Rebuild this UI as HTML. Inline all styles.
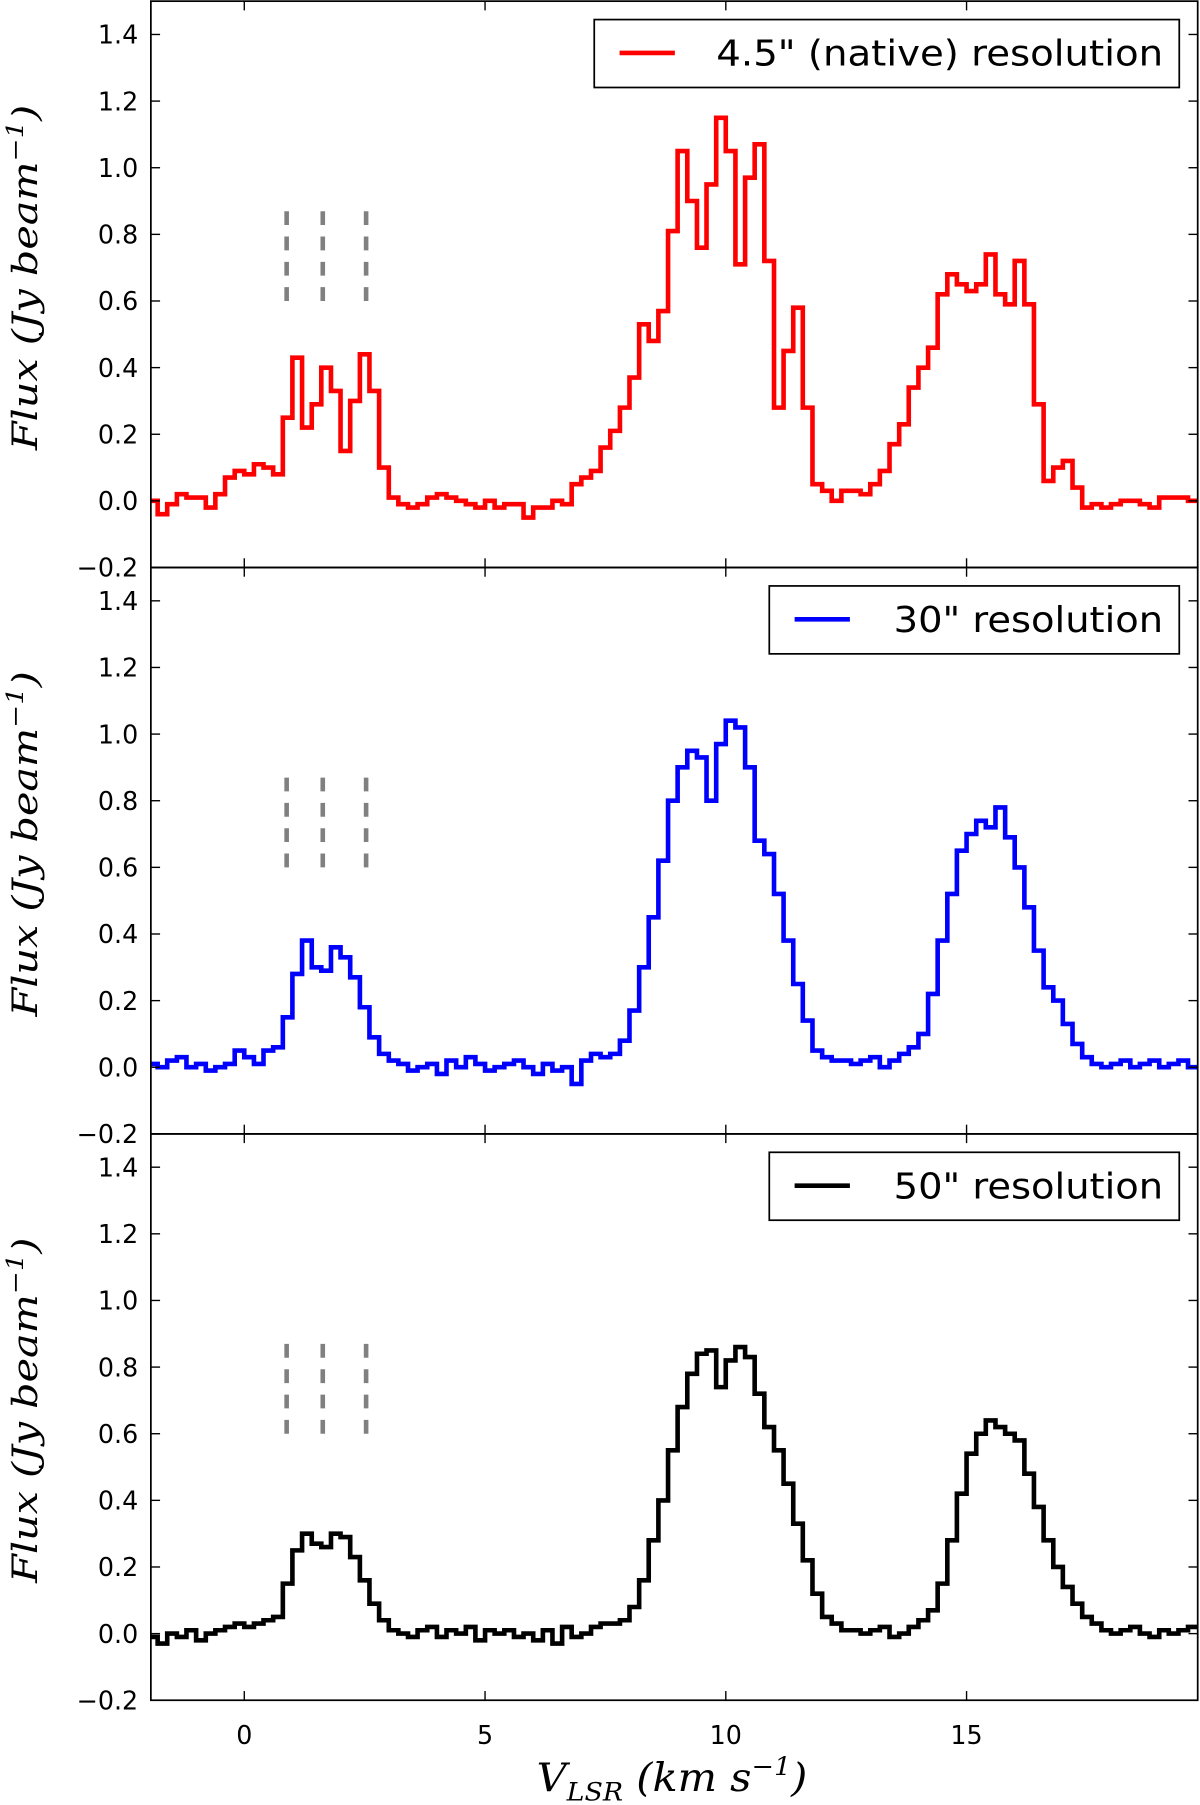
<!DOCTYPE html>
<html><head><meta charset="utf-8"><style>
html,body{margin:0;padding:0;background:#fff;}
svg{display:block;}
text{font-family:"DejaVu Sans","Liberation Sans",sans-serif;}
.math{font-family:"DejaVu Serif","Liberation Serif",serif;font-style:italic;}
</style></head><body>
<svg id="chart" width="1200" height="1805" viewBox="0 0 1042 1568" preserveAspectRatio="none" xmlns="http://www.w3.org/2000/svg"></svg>
<script>
const xStart = -1.9;
const xStep = 0.2;
const redValues = [0.00,-0.04,-0.01,0.02,0.01,0.01,-0.02,0.02,0.07,0.09,0.08,0.11,0.10,0.08,0.25,0.43,0.22,0.29,0.40,0.33,0.15,0.30,0.44,0.33,0.10,0.01,-0.01,-0.02,-0.01,0.01,0.02,0.01,0.00,-0.01,-0.02,0.00,-0.02,-0.01,-0.01,-0.05,-0.02,-0.02,0.00,-0.01,0.05,0.07,0.09,0.16,0.21,0.28,0.37,0.53,0.48,0.57,0.81,1.05,0.90,0.76,0.95,1.15,1.05,0.71,0.97,1.07,0.72,0.28,0.45,0.58,0.28,0.05,0.03,0.00,0.03,0.03,0.02,0.05,0.09,0.17,0.23,0.34,0.40,0.46,0.62,0.68,0.65,0.63,0.65,0.74,0.62,0.59,0.72,0.59,0.29,0.06,0.10,0.12,0.04,-0.02,-0.01,-0.02,-0.01,0.00,0.00,-0.01,-0.02,0.01,0.01,0.01,0.00];
const blueValues = [0.01,0.00,0.02,0.03,0.00,0.01,-0.01,0.00,0.01,0.05,0.03,0.01,0.05,0.06,0.15,0.28,0.38,0.30,0.29,0.36,0.33,0.27,0.18,0.09,0.04,0.02,0.01,-0.01,0.00,0.01,-0.02,0.02,0.00,0.03,0.01,-0.01,0.00,0.01,0.02,0.00,-0.02,0.01,-0.01,0.00,-0.05,0.02,0.04,0.03,0.04,0.08,0.17,0.30,0.45,0.62,0.80,0.90,0.95,0.93,0.80,0.97,1.04,1.02,0.90,0.68,0.64,0.52,0.38,0.25,0.14,0.05,0.03,0.02,0.02,0.01,0.02,0.03,0.00,0.02,0.04,0.06,0.10,0.22,0.38,0.52,0.65,0.70,0.74,0.72,0.78,0.69,0.60,0.48,0.35,0.24,0.20,0.13,0.07,0.03,0.01,0.00,0.01,0.02,0.00,0.01,0.02,0.00,0.01,0.02,0.00];
const blackValues = [-0.01,-0.03,0.00,-0.01,0.01,-0.02,0.00,0.01,0.02,0.03,0.02,0.03,0.04,0.05,0.15,0.25,0.30,0.27,0.26,0.30,0.29,0.23,0.16,0.09,0.04,0.01,0.00,-0.01,0.01,0.02,-0.01,0.01,0.00,0.02,-0.02,0.01,0.00,0.01,-0.01,0.00,-0.02,0.01,-0.03,0.02,-0.01,0.00,0.02,0.03,0.03,0.04,0.08,0.16,0.28,0.40,0.55,0.68,0.78,0.84,0.85,0.74,0.82,0.86,0.83,0.72,0.62,0.55,0.45,0.33,0.22,0.12,0.05,0.03,0.01,0.01,0.00,0.01,0.02,-0.01,0.00,0.02,0.04,0.07,0.15,0.28,0.42,0.54,0.60,0.64,0.62,0.60,0.58,0.48,0.38,0.28,0.20,0.14,0.09,0.05,0.03,0.01,0.00,0.01,0.02,0.00,-0.01,0.01,0.00,0.01,0.02];
const seriesColors = ["#ff0000","#0000ff","#000000"];
const legendLabels = ['4.5" (native) resolution','30" resolution','50" resolution'];
const yTicks = [-0.2,0.0,0.2,0.4,0.6,0.8,1.0,1.2,1.4];
const xTicks = [0,5,10,15];
const markerVelocities = [0.88,1.63,2.53];

const NS="http://www.w3.org/2000/svg";
const svg=document.getElementById('chart');
const L=131,R=1040,xMin=-1.94,xMax=19.8,yMin=-0.2,yMax=1.5;
const panelTops=[1,493,985],panelH=492;
function sx(v){return L+(v-xMin)/(xMax-xMin)*(R-L);}
function syF(top){return v=>top+panelH-(v-yMin)/(yMax-yMin)*panelH;}
function el(tag,attrs,parent){const e=document.createElementNS(NS,tag);for(const k in attrs)e.setAttribute(k,attrs[k]);(parent||svg).appendChild(e);return e;}
const allSeries=[redValues,blueValues,blackValues];
const names=['red','blue','black'];
allSeries.forEach((vals,p)=>{
  const top=panelTops[p],sy=syF(top);
  const g=el('g',{});
  
  
  const cp=el('clipPath',{id:'cp'+p},g);
  el('rect',{x:L,y:top,width:R-L,height:panelH},cp);
  markerVelocities.forEach(m=>{
    const ln=el('line',{x1:sx(m),x2:sx(m),y1:sy(0.6),y2:sy(0.9),stroke:'#808080','stroke-width':4,'stroke-dasharray':'12,10'},g);
    
    
  });
  let d='';
  vals.forEach((v,i)=>{
    const x0=sx(xStart+i*xStep-xStep/2),x1=sx(xStart+i*xStep+xStep/2);
    d+=(i===0?'M':'L')+x0.toFixed(1)+','+sy(v).toFixed(1)+'L'+x1.toFixed(1)+','+sy(v).toFixed(1);
  });
  const path=el('path',{d:d,fill:'none',stroke:seriesColors[p],'stroke-width':4,'clip-path':'url(#cp'+p+')'},g);
  
  
  const fr=el('rect',{x:L,y:top,width:R-L,height:panelH,fill:'none',stroke:'#000','stroke-width':1.5},g);
  
  
  yTicks.forEach(t=>{
    const y=sy(t);
    el('line',{x1:L,x2:L+8,y1:y,y2:y,stroke:'#000','stroke-width':1.2},g);
    el('line',{x1:R-8,x2:R,y1:y,y2:y,stroke:'#000','stroke-width':1.2},g);
    const tx=el('text',{x:120,y:y+8,'text-anchor':'end','font-size':22},g);
    tx.textContent=(t<0?'\u2212':'')+Math.abs(t).toFixed(1);
    
    
  });
  xTicks.forEach(t=>{
    const x=sx(t);
    el('line',{x1:x,x2:x,y1:top,y2:top+8,stroke:'#000','stroke-width':1.2},g);
    el('line',{x1:x,x2:x,y1:top+panelH-8,y2:top+panelH,stroke:'#000','stroke-width':1.2},g);
  });
  const yl=el('text',{x:0,y:0,'font-size':30,'text-anchor':'middle',transform:'translate(32,'+(top+panelH/2-6)+') rotate(-90)',class:'math',textLength:300,lengthAdjust:'spacingAndGlyphs'},g);
  yl.innerHTML='Flux (Jy beam<tspan dy="-12" font-size="20">\u22121</tspan><tspan dy="12">)</tspan>';
  
  
  const lx=p===0?516:668,ly=top+16;
  const lg=el('g',{},g);
  
  
  el('rect',{x:lx,y:ly,width:1024-lx,height:59,fill:'#fff',stroke:'#000','stroke-width':1.5},lg);
  el('line',{x1:lx+22,x2:lx+70,y1:ly+29,y2:ly+29,stroke:seriesColors[p],'stroke-width':4},lg);
  const lw=p===0?388:234;
  const lt=el('text',{x:1010-lw,y:ly+40,'font-size':31,textLength:lw,lengthAdjust:'spacingAndGlyphs'},lg);
  lt.textContent=legendLabels[p];
  
  
});
xTicks.forEach(t=>{
  const tx=el('text',{x:sx(t),y:1515,'text-anchor':'middle','font-size':22});
  tx.textContent=t;
  
  
});
const xl=el('text',{x:466,y:1556,'font-size':34,class:'math',textLength:235,lengthAdjust:'spacingAndGlyphs'});
xl.innerHTML='V<tspan dy="8" font-size="22">LSR</tspan><tspan dy="-8"> (km s</tspan><tspan dy="-14" font-size="22">\u22121</tspan><tspan dy="14">)</tspan>';


</script>
</body></html>
